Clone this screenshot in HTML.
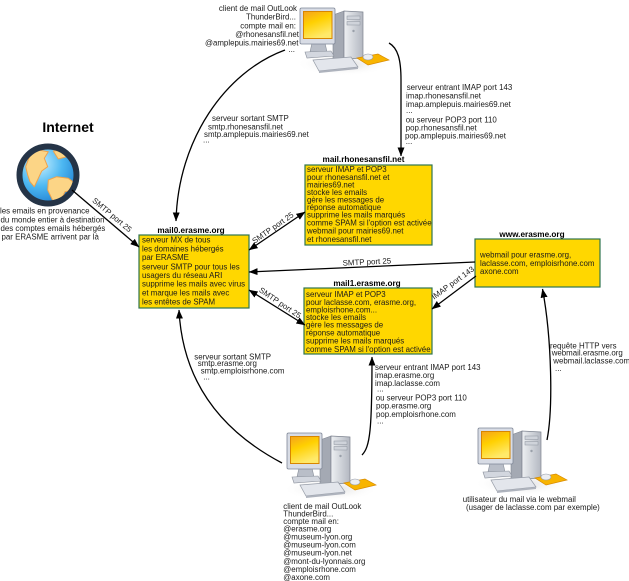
<!DOCTYPE html>
<html><head><meta charset="utf-8">
<style>
html,body{margin:0;padding:0;background:#fff;}
svg{display:block;}
text{font-family:"Liberation Sans",sans-serif;font-size:7.9px;fill:#1a1a1a;}
.b{font-weight:bold;font-size:8.2px;fill:#000;}
.big{font-weight:bold;font-size:14px;fill:#000;}
</style></head><body>
<svg width="629" height="581" viewBox="0 0 629 581" xmlns="http://www.w3.org/2000/svg">
<defs>
 <marker id="ah" markerWidth="9" markerHeight="7" refX="8.6" refY="3.5" orient="auto-start-reverse" markerUnits="userSpaceOnUse">
  <path d="M0,0 L9,3.5 L0,7 z" fill="#000"/>
 </marker>
 <radialGradient id="sea" cx="0.35" cy="0.3" r="0.8">
  <stop offset="0" stop-color="#c8f0ff"/>
  <stop offset="0.5" stop-color="#4db8f2"/>
  <stop offset="1" stop-color="#1a78cc"/>
 </radialGradient>
 <clipPath id="gclip"><circle cx="48" cy="175" r="26"/></clipPath>
 <linearGradient id="scr" x1="0" y1="0" x2="0.4" y2="1">
  <stop offset="0" stop-color="#f5a21e"/>
  <stop offset="0.45" stop-color="#ffd000"/>
  <stop offset="1" stop-color="#ffe96a"/>
 </linearGradient>
 <linearGradient id="tow" x1="0" y1="0" x2="1" y2="0">
  <stop offset="0" stop-color="#eef0f3"/>
  <stop offset="1" stop-color="#b3b8c1"/>
 </linearGradient>
 <radialGradient id="shd" cx="0.5" cy="0.5" r="0.5">
  <stop offset="0" stop-color="#d9d9d9"/>
  <stop offset="1" stop-color="#ffffff" stop-opacity="0"/>
 </radialGradient>
 <g id="pc">
  <ellipse cx="44" cy="56" rx="48" ry="12" fill="url(#shd)"/>
  <polygon points="33,7 44,3 44,51 33,53" fill="#a4a9b3" stroke="#7e8490" stroke-width="0.6"/>
  <polygon points="44,3 63,4 63,50 44,51" fill="url(#tow)" stroke="#7e8490" stroke-width="0.7"/>
  <rect x="47" y="8" width="13" height="3.5" fill="#cfd3da" stroke="#8d939e" stroke-width="0.5"/>
  <rect x="47" y="13.5" width="13" height="3.5" fill="#cfd3da" stroke="#8d939e" stroke-width="0.5"/>
  <circle cx="53.5" cy="23" r="1.2" fill="#9aa0aa"/>
  <polygon points="12,35 25,35 27,44 10,44" fill="#b9bec8" stroke="#8a909b" stroke-width="0.6"/>
  <polygon points="5,44 31,43 34,48 7,50" fill="#d3d7df" stroke="#8a909b" stroke-width="0.6"/>
  <rect x="0" y="0" width="35" height="36" rx="1.5" fill="#d8dce5" stroke="#7f8797" stroke-width="0.8"/>
  <rect x="3.5" y="3.5" width="28.5" height="27" fill="url(#scr)" stroke="#d88600" stroke-width="1"/>
  <polygon points="13,52 51,49 58,59 19,63" fill="#e3e6ec" stroke="#979da8" stroke-width="0.7"/>
  <polygon points="19,63 58,59 58,61 19,65" fill="#aeb3bd"/>
  <polygon points="57,50 78,46 89,52 68,57" fill="#f8b400" stroke="#d88a00" stroke-width="0.7"/>
  <ellipse cx="68" cy="49" rx="5" ry="3" fill="#eceef2" stroke="#979da8" stroke-width="0.6"/>
 </g>
</defs>

<!-- computers -->
<use href="#pc" x="300" y="8"/>
<use href="#pc" x="287" y="433"/>
<use href="#pc" x="478" y="428"/>

<!-- globe -->
<circle cx="48" cy="175" r="28.5" fill="url(#sea)"/>
<g clip-path="url(#gclip)" fill="#fcd586" stroke="#f0a24a" stroke-width="1" stroke-linejoin="round">
 <polygon points="25.7,166.7 30,155 38.3,150 48.3,151.7 44.3,158.3 47.7,166.7 41.7,171 38.3,178.3 34.3,186.7 30,181.7 27.7,175"/>
 <polygon points="48.3,180 56.7,176.7 68.3,178.3 75,183.3 73.3,190 65,191.7 61,200 55,205 51.7,198.3 47.7,190"/>
 <polygon points="53.3,151 63.3,150 66.7,156.7 58.3,159"/>
</g>
<circle cx="48" cy="175" r="28.5" fill="none" stroke="#253447" stroke-width="6"/>
<text class="big" x="68" y="132" text-anchor="middle">Internet</text>

<!-- boxes -->
<g fill="#ffd700" stroke="#2f7450" stroke-width="1.2">
 <rect x="139" y="235" width="110" height="73"/>
 <rect x="305" y="165" width="127" height="80"/>
 <rect x="304" y="288" width="128" height="66"/>
 <rect x="475" y="239" width="125" height="48"/>
</g>

<text class="b" x="191" y="233" text-anchor="middle">mail0.erasme.org</text>
<text class="b" x="363.5" y="162" text-anchor="middle">mail.rhonesansfil.net</text>
<text class="b" x="367" y="286" text-anchor="middle">mail1.erasme.org</text>
<text class="b" x="532" y="237" text-anchor="middle">www.erasme.org</text>

<!-- mail0 text -->
<text x="142" y="242.6">serveur MX de tous</text>
<text x="142" y="251.6">les domaines hébergés</text>
<text x="142" y="259.9">par ERASME</text>
<text x="142" y="269.3">serveur SMTP pour tous les</text>
<text x="142" y="277.9">usagers du réseau ARI</text>
<text x="142" y="286.6">supprime les mails avec virus</text>
<text x="142" y="295.3">et marque les mails avec</text>
<text x="142" y="304.3">les entêtes de SPAM</text>

<!-- rhone text -->
<text x="307" y="171.9">serveur IMAP et POP3</text>
<text x="307" y="179.9">pour rhonesansfil.net et</text>
<text x="307" y="187.3">mairies69.net</text>
<text x="307" y="194.9">stocke les emails</text>
<text x="307" y="202.6">gère les messages de</text>
<text x="307" y="209.9">réponse automatique</text>
<text x="307" y="217.6">supprime les mails marqués</text>
<text x="307" y="225.3">comme SPAM si l'option est activée</text>
<text x="307" y="233.3">webmail pour mairies69.net</text>
<text x="307" y="241.9">et rhonesansfil.net</text>

<!-- mail1 text -->
<text x="306" y="296.9">serveur IMAP et POP3</text>
<text x="306" y="304.9">pour laclasse.com, erasme.org,</text>
<text x="306" y="312.3">emploisrhone.com...</text>
<text x="306" y="319.9">stocke les emails</text>
<text x="306" y="327.6">gère les messages de</text>
<text x="306" y="335.6">réponse automatique</text>
<text x="306" y="343.6">supprime les mails marqués</text>
<text x="306" y="351.9">comme SPAM si l'option est activée</text>

<!-- www text -->
<text x="480" y="257.6">webmail pour erasme.org,</text>
<text x="480" y="265.9">laclasse.com, emploisrhone.com</text>
<text x="480" y="273.9">axone.com</text>

<!-- connectors -->
<g fill="none" stroke="#000" stroke-width="1.3">
 <path d="M285,50 C225,72 178,140 176,221" marker-end="url(#ah)"/>
 <path d="M389,43 C398,48 401,60 401,80 L401,156" marker-end="url(#ah)"/>
 <path d="M72,190 L139,247" marker-end="url(#ah)"/>
 <path d="M249,250 L305,212" marker-start="url(#ah)" marker-end="url(#ah)"/>
 <path d="M475,262 L249,272" marker-end="url(#ah)"/>
 <path d="M249,290 L305,325" marker-start="url(#ah)" marker-end="url(#ah)"/>
 <path d="M476,276 L432,309" marker-end="url(#ah)"/>
 <path d="M362,455 C370,447 372,430 372,357" marker-end="url(#ah)"/>
 <path d="M282,463 C210,425 182,370 179,310" marker-end="url(#ah)"/>
 <path d="M547,440 C553,410 552,340 542.5,289" marker-end="url(#ah)"/>
</g>

<!-- connector labels -->
<text transform="translate(110.4,217) rotate(40)" text-anchor="middle">SMTP port 25</text>
<text transform="translate(274.4,230) rotate(-35)" text-anchor="middle">SMTP port 25</text>
<text transform="translate(367,264.5) rotate(-2.6)" text-anchor="middle">SMTP port 25</text>
<text transform="translate(278.6,305) rotate(34)" text-anchor="middle">SMTP port 25</text>
<text transform="translate(454.5,285) rotate(-36)" text-anchor="middle">IMAP port 143</text>

<!-- top client -->
<g text-anchor="end">
 <text x="297" y="11">client de mail OutLook</text>
 <text x="296" y="19.3">ThunderBird...</text>
 <text x="296" y="28.6">compte mail en:</text>
 <text x="299" y="37">@rhonesansfil.net</text>
 <text x="298.5" y="45.3">@amplepuis.mairies69.net</text>
 <text x="295" y="52">...</text>
</g>

<text x="212" y="121">serveur sortant SMTP</text>
<text x="208" y="129.3">smtp.rhonesansfil.net</text>
<text x="204" y="137">smtp.amplepuis.mairies69.net</text>
<text x="203" y="142.5">...</text>

<text x="406.7" y="90">serveur entrant IMAP port 143</text>
<text x="406" y="98.3">imap.rhonesansfil.net</text>
<text x="406" y="107">imap.amplepuis.mairies69.net</text>
<text x="406" y="113">...</text>
<text x="405.7" y="122.6">ou serveur POP3 port 110</text>
<text x="405.7" y="130.6">pop.rhonesansfil.net</text>
<text x="405" y="138.6">pop.amplepuis.mairies69.net</text>
<text x="405.7" y="144">...</text>

<!-- internet text -->
<text x="0" y="213.6">les emails en provenance</text>
<text x="0.5" y="222.6">du monde entier à destination</text>
<text x="0.5" y="231">des comptes emails hébergés</text>
<text x="1.5" y="239.3">par ERASME arrivent par là</text>

<!-- bottom labels -->
<text x="375" y="370">serveur entrant IMAP port 143</text>
<text x="375" y="378">imap.erasme.org</text>
<text x="375" y="386">imap.laclasse.com</text>
<text x="377" y="391.5">...</text>
<text x="375.7" y="400.3">ou serveur POP3 port 110</text>
<text x="376" y="408.6">pop.erasme.org</text>
<text x="376" y="417">pop.emploisrhone.com</text>
<text x="377" y="423.5">...</text>

<text x="194.3" y="359.3">serveur sortant SMTP</text>
<text x="197.7" y="366">smtp.erasme.org</text>
<text x="200.7" y="373.3">smtp.emploisrhone.com</text>
<text x="203.3" y="379.5">...</text>

<text x="283.3" y="509">client de mail OutLook</text>
<text x="283.3" y="516.5">ThunderBird...</text>
<text x="283.3" y="524">compte mail en:</text>
<text x="283.3" y="531.5">@erasme.org</text>
<text x="283.3" y="539.5">@museum-lyon.org</text>
<text x="283.3" y="547.5">@museum-lyon.com</text>
<text x="283.3" y="555.5">@museum-lyon.net</text>
<text x="283.3" y="564">@mont-du-lyonnais.org</text>
<text x="283.3" y="572">@emploisrhone.com</text>
<text x="283.3" y="580">@axone.com</text>

<text x="550" y="348.6">requête HTTP vers</text>
<text x="551.7" y="355.3">webmail.erasme.org</text>
<text x="553.3" y="363.3">webmail.laclasse.com</text>
<text x="555" y="371.2">...</text>

<text x="462.7" y="502">utilisateur du mail via le webmail</text>
<text x="466" y="510">(usager de laclasse.com par exemple)</text>
</svg>
</body></html>
